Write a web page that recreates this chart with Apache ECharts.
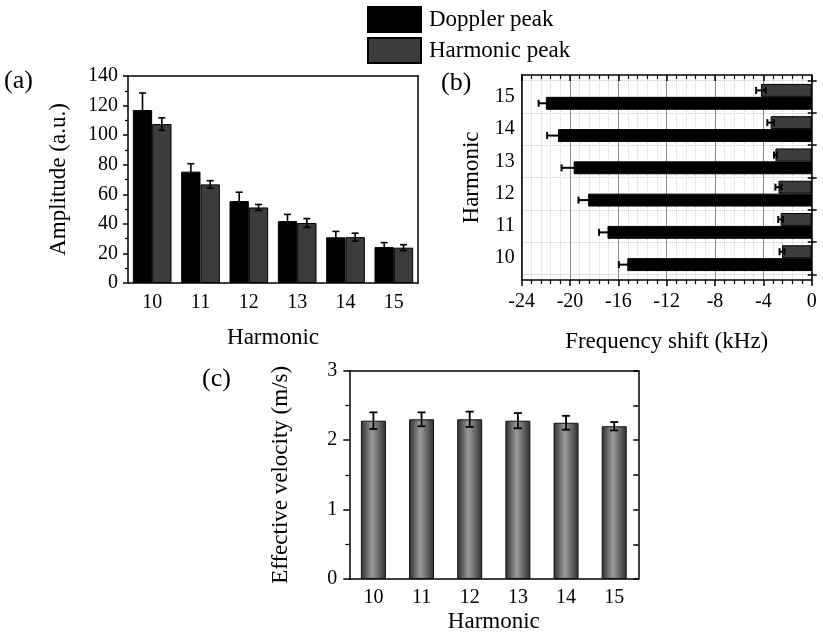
<!DOCTYPE html>
<html>
<head>
<meta charset="utf-8">
<script src="https://cdn.jsdelivr.net/npm/echarts@6/dist/echarts.min.js"></script>
<style>html,body{margin:0;padding:0;background:#fff}#c{width:823px;height:635px}</style>
</head>
<body>
<div id="c"></div>
<script>
const harmonics = ['10', '11', '12', '13', '14', '15'];
// (a) Amplitude
const dopplerAmp = [117, 75.3, 55.4, 41.9, 30.9, 24.3];
const dopplerAmpErr = [11.5, 5.4, 6.0, 4.5, 4.0, 3.0];
const harmonicAmp = [107.5, 66.7, 51.1, 40.6, 31.0, 23.9];
const harmonicAmpErr = [4.2, 2.5, 2.0, 3.0, 2.7, 2.0];
// (b) Frequency shift (kHz)
const dopplerShift = [-15.26, -16.9, -18.5, -19.7, -21.0, -22.0];
const dopplerShiftErr = [0.7, 0.7, 0.8, 1.0, 0.9, 0.6];
const harmonicShift = [-2.46, -2.57, -2.75, -3.0, -3.4, -4.2];
const harmonicShiftErr = [0.2, 0.2, 0.25, 0.12, 0.27, 0.4];
// (c) Effective velocity (m/s)
const velocity = [2.28, 2.30, 2.30, 2.28, 2.25, 2.20];
const velocityErr = [0.12, 0.10, 0.11, 0.11, 0.10, 0.06];

const FONT = "'Liberation Serif','Times New Roman',serif";
const AX = {color: '#000', width: 1.5};
const LINE = {show: true, onZero: false, lineStyle: AX};
const NOLINE = {show: false, onZero: false};

function errData(vals, errs) {
  return vals.map((v, i) => [i, v, errs[i]]);
}
function errVertical(offsetFrac, capHalf, lw) {
  return function (params, api) {
    const c = api.value(0), v = api.value(1), e = api.value(2);
    const band = api.size([1, 0])[0];
    const hi = api.coord([c, v + e]), lo = api.coord([c, v - e]);
    const x = hi[0] + offsetFrac * band;
    const st = {stroke: '#000', lineWidth: lw};
    return {type: 'group', children: [
      {type: 'line', shape: {x1: x, y1: hi[1], x2: x, y2: lo[1]}, style: st},
      {type: 'line', shape: {x1: x - capHalf, y1: hi[1], x2: x + capHalf, y2: hi[1]}, style: st},
      {type: 'line', shape: {x1: x - capHalf, y1: lo[1], x2: x + capHalf, y2: lo[1]}, style: st}
    ]};
  };
}
function errHorizontal(offsetFrac, capHalf, lw) {
  return function (params, api) {
    const c = api.value(0), v = api.value(1), e = api.value(2);
    const band = api.size([0, 1])[1];
    const a = api.coord([v - e, c]), b = api.coord([v + e, c]);
    const y = a[1] + offsetFrac * band;
    const st = {stroke: '#000', lineWidth: lw};
    return {type: 'group', children: [
      {type: 'line', shape: {x1: a[0], y1: y, x2: b[0], y2: y}, style: st},
      {type: 'line', shape: {x1: a[0], y1: y - capHalf, x2: a[0], y2: y + capHalf}, style: st},
      {type: 'line', shape: {x1: b[0], y1: y - capHalf, x2: b[0], y2: y + capHalf}, style: st}
    ]};
  };
}

const chart = echarts.init(document.getElementById('c'), null, {renderer: 'canvas'});
const hide = {show: false};
const titleStyle = {fontSize: 26, fontWeight: 'normal', fontFamily: FONT, color: '#000'};
const option = {
  animation: false,
  textStyle: {fontFamily: FONT, color: '#000'},
  title: [
    {text: '(a)', left: 4, top: 68, padding: 0, textStyle: titleStyle},
    {text: '(b)', left: 441, top: 70, padding: 0, textStyle: titleStyle},
    {text: '(c)', left: 202, top: 366, padding: 0, textStyle: titleStyle}
  ],
  legend: {
    data: ['Doppler peak', 'Harmonic peak'],
    orient: 'vertical', left: 367, top: 6, padding: 0,
    itemWidth: 53, itemHeight: 25, itemGap: 4,
    icon: 'rect',
    textStyle: {fontSize: 23, fontFamily: FONT, color: '#000', padding: [0, 0, 0, 3]},
    selectedMode: false
  },
  grid: [
    {left: 128, top: 76, width: 290, height: 207},
    {left: 521.7, top: 75, width: 290, height: 205},
    {left: 521.7, top: 80.7, width: 290, height: 193.6},
    {left: 349.3, top: 370.7, width: 289, height: 208.3},
    {left: 349.3, top: 370.7, width: 289, height: 208.3},
    {left: 521.7, top: 80.7, width: 290, height: 193.6}
  ],
  xAxis: [
    // 0: (a) bottom
    {type: 'category', gridIndex: 0, data: harmonics, position: 'bottom',
     axisLine: LINE, axisTick: {alignWithLabel: true, length: 5, lineStyle: AX},
     axisLabel: {fontSize: 20, fontFamily: FONT, color: '#000', margin: 10},
     name: 'Harmonic', nameLocation: 'middle', nameGap: 43,
     nameTextStyle: {fontSize: 23, fontFamily: FONT, color: '#000'}},
    // 1: (a) top frame
    {type: 'category', gridIndex: 0, data: harmonics, position: 'top',
     axisLine: LINE, axisTick: hide, axisLabel: hide},
    // 2: (b) bottom
    {type: 'value', gridIndex: 1, min: -24, max: 0, interval: 4, position: 'bottom',
     axisLine: LINE, axisTick: {length: 6, lineStyle: AX},
     minorTick: {show: true, splitNumber: 5, length: 4, lineStyle: {color: '#000', width: 1.2}},
     splitLine: {show: true, lineStyle: {color: '#8a8a8a', width: 1}},
     minorSplitLine: {show: true, lineStyle: {color: '#cfcfcf', width: 1, type: 'dotted'}},
     axisLabel: {fontSize: 20, fontFamily: FONT, color: '#000', margin: 12},
     name: 'Frequency shift (kHz)', nameLocation: 'middle', nameGap: 50,
     nameTextStyle: {fontSize: 23, fontFamily: FONT, color: '#000'}},
    // 3: (b) top
    {type: 'value', gridIndex: 1, min: -24, max: 0, interval: 4, position: 'top',
     axisLine: LINE, axisTick: {inside: true, length: 6, lineStyle: AX},
     minorTick: {show: true, splitNumber: 5, length: 4, lineStyle: {color: '#000', width: 1.2}},
     splitLine: hide, axisLabel: hide},
    // 4: (b) bars x
    {type: 'value', gridIndex: 2, min: -24, max: 0, show: false},
    // 5: (c) bottom
    {type: 'category', gridIndex: 3, data: harmonics, position: 'bottom',
     axisLine: LINE, axisTick: {alignWithLabel: true, length: 6, lineStyle: AX},
     axisLabel: {fontSize: 20, fontFamily: FONT, color: '#000', margin: 9},
     name: 'Harmonic', nameLocation: 'middle', nameGap: 31,
     nameTextStyle: {fontSize: 23, fontFamily: FONT, color: '#000'}},
    // 6: (c) top
    {type: 'category', gridIndex: 3, data: harmonics, position: 'top',
     axisLine: LINE, axisTick: {alignWithLabel: true, inside: true, length: 7, lineStyle: AX},
     axisLabel: hide},
    // 7: (c) boundary ticks
    {type: 'category', gridIndex: 4, data: harmonics, position: 'bottom',
     axisLine: NOLINE, axisTick: {alignWithLabel: false, length: 4, lineStyle: AX}, axisLabel: hide},
    // 8: grid 5 hidden
    {type: 'value', gridIndex: 5, min: -24, max: 0, show: false}
  ],
  yAxis: [
    // 0: (a) left
    {type: 'value', gridIndex: 0, min: 0, max: 140, interval: 20, position: 'left',
     axisLine: LINE, axisTick: {show: true, length: 5, lineStyle: AX},
     minorTick: {show: true, splitNumber: 2, length: 3, lineStyle: {color: '#000', width: 1.2}},
     splitLine: hide,
     axisLabel: {fontSize: 20, fontFamily: FONT, color: '#000', margin: 10},
     name: 'Amplitude (a.u.)', nameLocation: 'middle', nameGap: 58,
     nameTextStyle: {fontSize: 23, fontFamily: FONT, color: '#000'}},
    // 1: (a) right frame
    {type: 'value', gridIndex: 0, min: 0, max: 140, position: 'right',
     axisLine: LINE, axisTick: hide, axisLabel: hide, splitLine: hide},
    // 2: (b) frame left
    {type: 'value', gridIndex: 1, min: 0, max: 1, position: 'left',
     axisLine: LINE, axisTick: hide, axisLabel: hide, splitLine: hide},
    // 3: (b) frame right
    {type: 'value', gridIndex: 1, min: 0, max: 1, position: 'right',
     axisLine: LINE, axisTick: hide, axisLabel: hide, splitLine: hide},
    // 4: (b) bars category left
    {type: 'category', gridIndex: 2, data: harmonics, position: 'left',
     axisLine: NOLINE, axisTick: hide,
     splitLine: {show: true, lineStyle: {color: '#c8c8c8', width: 1, type: 'dotted'}},
     axisLabel: {fontSize: 20, fontFamily: FONT, color: '#000', margin: 7},
     name: 'Harmonic', nameLocation: 'middle', nameGap: 38,
     nameTextStyle: {fontSize: 23, fontFamily: FONT, color: '#000'}},
    // 5: (b) bars category right (boundary ticks, outward)
    {type: 'category', gridIndex: 2, data: harmonics, position: 'right',
     axisLine: NOLINE, axisTick: {show: true, length: 5, lineStyle: AX}, axisLabel: hide, splitLine: hide},
    // 6: (c) left
    {type: 'value', gridIndex: 3, min: 0, max: 3, interval: 1, position: 'left',
     axisLine: LINE, axisTick: {show: true, length: 6, lineStyle: AX},
     minorTick: {show: true, splitNumber: 2, length: 4, lineStyle: {color: '#000', width: 1.2}},
     splitLine: hide,
     axisLabel: {fontSize: 20, fontFamily: FONT, color: '#000', margin: 12},
     name: 'Effective velocity (m/s)', nameLocation: 'middle', nameGap: 57,
     nameTextStyle: {fontSize: 23, fontFamily: FONT, color: '#000'}},
    // 7: (c) right
    {type: 'value', gridIndex: 3, min: 0, max: 3, interval: 0.5, position: 'right',
     axisLine: LINE, axisTick: {show: true, inside: true, length: 5, lineStyle: AX},
     axisLabel: hide, splitLine: hide},
    // 8: grid 4 hidden
    {type: 'value', gridIndex: 4, min: 0, max: 3, show: false},
    // 9: grid 5 (b) right inward boundary ticks
    {type: 'category', gridIndex: 5, data: harmonics, position: 'right',
     axisLine: NOLINE, axisTick: {show: true, inside: true, length: 4, lineStyle: AX}, axisLabel: hide, splitLine: hide}
  ],
  series: [
    {name: 'Doppler peak', type: 'bar', xAxisIndex: 0, yAxisIndex: 0, data: dopplerAmp,
     barGap: '0%', barCategoryGap: '20%',
     itemStyle: {color: '#000', borderColor: '#000', borderWidth: 1}},
    {name: 'Harmonic peak', type: 'bar', xAxisIndex: 0, yAxisIndex: 0, data: harmonicAmp,
     barGap: '0%', barCategoryGap: '20%',
     itemStyle: {color: '#3c3c3c', borderColor: '#000', borderWidth: 1}},
    {type: 'custom', xAxisIndex: 0, yAxisIndex: 0, z: 5, encode: {x: 0, y: 1},
     data: errData(dopplerAmp, dopplerAmpErr), renderItem: errVertical(-0.2, 3.5, 1.6)},
    {type: 'custom', xAxisIndex: 0, yAxisIndex: 0, z: 5, encode: {x: 0, y: 1},
     data: errData(harmonicAmp, harmonicAmpErr), renderItem: errVertical(0.2, 3.5, 1.6)},

    {name: 'Harmonic peak', type: 'bar', xAxisIndex: 4, yAxisIndex: 4, data: harmonicShift,
     barGap: '0%', barCategoryGap: '20%',
     itemStyle: {color: '#3c3c3c', borderColor: '#000', borderWidth: 1}},
    {name: 'Doppler peak', type: 'bar', xAxisIndex: 4, yAxisIndex: 4, data: dopplerShift,
     barGap: '0%', barCategoryGap: '20%',
     itemStyle: {color: '#000', borderColor: '#000', borderWidth: 1}},
    {type: 'custom', xAxisIndex: 4, yAxisIndex: 4, z: 5, encode: {y: 0, x: 1},
     data: errData(dopplerShift, dopplerShiftErr), renderItem: errHorizontal(0.2, 3.5, 2)},
    {type: 'custom', xAxisIndex: 4, yAxisIndex: 4, z: 5, encode: {y: 0, x: 1},
     data: errData(harmonicShift, harmonicShiftErr), renderItem: errHorizontal(-0.2, 3.5, 2)},

    {name: 'Effective velocity', type: 'bar', xAxisIndex: 5, yAxisIndex: 6, data: velocity,
     barWidth: 25,
     itemStyle: {
       color: new echarts.graphic.LinearGradient(0, 0, 1, 0, [
         {offset: 0, color: '#2e2e2e'}, {offset: 0.45, color: '#9a9a9a'}, {offset: 1, color: '#2e2e2e'}
       ]),
       borderColor: '#111', borderWidth: 1}},
    {type: 'custom', xAxisIndex: 5, yAxisIndex: 6, z: 5, encode: {x: 0, y: 1},
     data: errData(velocity, velocityErr), renderItem: errVertical(0, 4, 1.8)}
  ]
};
chart.setOption(option);
</script>
</body>
</html>
